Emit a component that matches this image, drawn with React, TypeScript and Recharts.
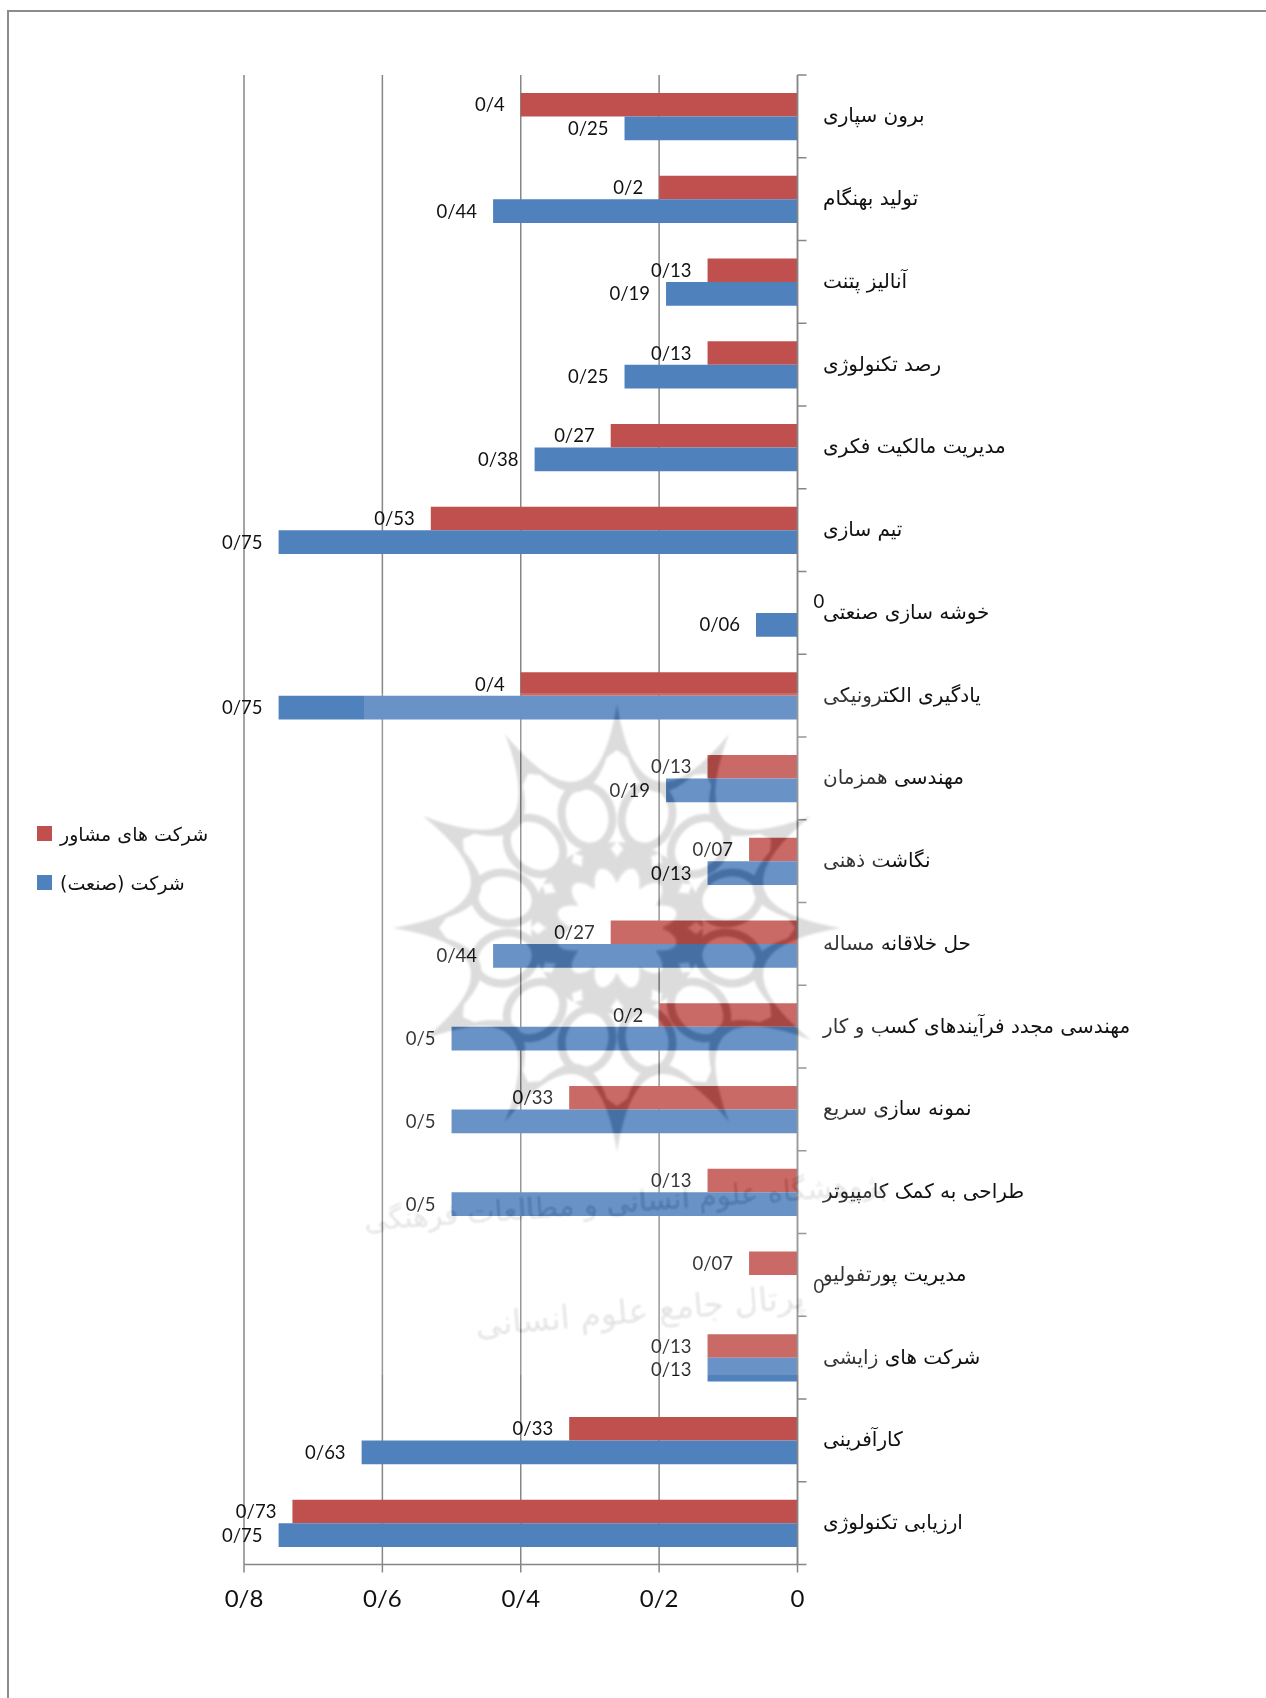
import React from 'react';
import { BarChart, Bar, XAxis, YAxis, CartesianGrid, Legend, LabelList } from 'recharts';

const categories = [
  'برون سپاری',
  'تولید بهنگام',
  'آنالیز پتنت',
  'رصد تکنولوژی',
  'مدیریت مالکیت فکری',
  'تیم سازی',
  'خوشه سازی صنعتی',
  'یادگیری الکترونیکی',
  'مهندسی همزمان',
  'نگاشت ذهنی',
  'حل خلاقانه مساله',
  'مهندسی مجدد فرآیندهای کسب و کار',
  'نمونه سازی سریع',
  'طراحی به کمک کامپیوتر',
  'مدیریت پورتفولیو',
  'شرکت های زایشی',
  'کارآفرینی',
  'ارزیابی تکنولوژی',
];
const consultants = [0.4, 0.2, 0.13, 0.13, 0.27, 0.53, 0, 0.4, 0.13, 0.07, 0.27, 0.2, 0.33, 0.13, 0.07, 0.13, 0.33, 0.73];
const industry = [0.25, 0.44, 0.19, 0.25, 0.38, 0.75, 0.06, 0.75, 0.19, 0.13, 0.44, 0.5, 0.5, 0.5, 0, 0.13, 0.63, 0.75];
const xTicks = [0, 0.2, 0.4, 0.6, 0.8];

const data = categories.map((name, i) => ({ name, consultants: consultants[i], industry: industry[i] }));

const WIDTH = 1266;
const HEIGHT = 1698;
const PLOT_TOP = 75;
const PLOT_BOTTOM = 1564.5;
const STEP = (PLOT_BOTTOM - PLOT_TOP) / categories.length;
const BAR = 23.6;
const GREY = '#868686';
const LATIN = 'Lato, sans-serif';
const PERSIAN = '"DejaVu Sans", sans-serif';

const decimal = (v: number) => String(v).replace('.', '/');

const ZeroLabel = ({ x, y }: any) => (
  <text x={x} y={y} dy="0.35em" textAnchor="start" fontFamily={LATIN} fontSize={18.5} fill="#111">
    0
  </text>
);

// recharts drops the label of a zero length bar, so those two are drawn with the axis row
const CategoryTick = (props: any) => {
  const { x, y, payload, index } = props;
  return (
    <g>
      <line x1={x} x2={x + 9} y1={y - STEP / 2} y2={y - STEP / 2} stroke={GREY} strokeWidth={1.5} />
      {index === categories.length - 1 && (
        <line x1={x} x2={x + 9} y1={y + STEP / 2} y2={y + STEP / 2} stroke={GREY} strokeWidth={1.5} />
      )}
      <text x={x + 25.5} y={y} dy="0.3em" fontFamily={PERSIAN} fontSize={20} fill="#111" textAnchor="start">
        {payload.value}
      </text>
      {consultants[index] === 0 && <ZeroLabel x={x + 16} y={y - BAR / 2} />}
      {industry[index] === 0 && <ZeroLabel x={x + 16} y={y + BAR / 2} />}
    </g>
  );
};

const ValueLabel = (props: any) => {
  const { x, y, width, height, value } = props;
  const left = Math.min(x, x + width);
  return (
    <text x={left - 16} y={y + height / 2} dy="0.35em" textAnchor="end" fontFamily={LATIN} fontSize={18.5} fill="#111">
      {decimal(value)}
    </text>
  );
};

const LegendBox = ({ payload }: any) => (
  <div style={{ position: 'relative', width: 220, height: 90 }}>
    {(payload || []).map((item: any, i: number) => (
      <div key={item.value} style={{ position: 'absolute', left: 0, top: i * 49, height: 16, width: 220 }}>
        <div style={{ position: 'absolute', left: 0, top: 0, width: 15, height: 15, background: item.color }} />
        <div
          style={{
            position: 'absolute',
            left: 23,
            top: -4,
            fontFamily: PERSIAN,
            fontSize: 19,
            lineHeight: '24px',
            color: '#111',
            whiteSpace: 'nowrap',
          }}
        >
          {item.value}
        </div>
      </div>
    ))}
  </div>
);

// faint emblem and caption printed over the page in the source scan
const spikes = Array.from({ length: 12 }, (_, k) => (k * Math.PI) / 6);
const polar = (r: number, a: number) => `${(r * Math.sin(a)).toFixed(1)} ${(-r * Math.cos(a)).toFixed(1)}`;

const Watermark = () => (
  <svg
    width={WIDTH}
    height={HEIGHT}
    style={{ position: 'absolute', left: 0, top: 0, mixBlendMode: 'difference', pointerEvents: 'none' }}
  >
    <defs>
      <filter id="soft">
        <feGaussianBlur stdDeviation="0.8" />
      </filter>
      <mask id="emblem" maskUnits="userSpaceOnUse" x="0" y="0" width={WIDTH} height={HEIGHT}>
        <g transform="translate(617 928)" filter="url(#soft)">
          {spikes.map((a) => {
            const b = a + Math.PI / 6;
            const m = a + Math.PI / 12;
            return (
              <g key={a}>
                <path fill="#fff" d={`M${polar(224, a)} Q${polar(88, m)} ${polar(224, b)} Q${polar(66, m)} ${polar(224, a)}Z`} />
                <path
                  fill="#fff"
                  d={`M${polar(224, a)} Q${polar(190, a + 0.02)} ${polar(168, a + 0.09)} L${polar(178, a)} L${polar(168, a - 0.09)} Q${polar(190, a - 0.02)} ${polar(224, a)}Z`}
                />
              </g>
            );
          })}
          {spikes.map((a) => {
            const deg = ((a + Math.PI / 12) * 180) / Math.PI;
            return (
              <g key={a} transform={`rotate(${deg})`}>
                <ellipse cx={0} cy={-116} rx={25} ry={31} fill="none" stroke="#fff" strokeWidth={8} />
              </g>
            );
          })}
          <circle r={86} fill="#fff" />
          {spikes.map((a) => {
            const deg = (a * 180) / Math.PI;
            return (
              <g key={a} transform={`rotate(${deg})`}>
                <path d="M0 -88 L7 -79 L0 -70 L-7 -79Z" fill="#000" />
                <ellipse cx={0} cy={-40} rx={12} ry={22} fill="#000" transform="rotate(15)" />
              </g>
            );
          })}
          <circle r={32} fill="#000" />
        </g>
      </mask>
    </defs>
    <rect x={0} y={0} width={WIDTH} height={HEIGHT} fill="#232323" mask="url(#emblem)" />
    <text x={626} y={1212} textAnchor="middle" fontFamily={PERSIAN} fontSize={29} fill="#1c1c1c" transform="rotate(-4 626 1212)" filter="url(#soft)">
      پژوهشگاه علوم انسانی و مطالعات فرهنگی
    </text>
    <text x={641} y={1322} textAnchor="middle" fontFamily={PERSIAN} fontSize={33} fill="#1c1c1c" transform="rotate(-5 641 1322)" filter="url(#soft)">
      پرتال جامع علوم انسانی
    </text>
  </svg>
);

export default function App() {
  return (
    <div style={{ position: 'absolute', left: 0, top: 0, width: WIDTH, height: HEIGHT, overflow: 'hidden', background: '#fff' }}>
      <div
        style={{
          position: 'absolute',
          left: 7,
          top: 10,
          width: WIDTH,
          height: HEIGHT,
          borderTop: '2px solid #8c8c8c',
          borderLeft: '2px solid #8c8c8c',
        }}
      />
      <div style={{ position: 'absolute', left: 0, top: 0 }}>
        <BarChart
          width={WIDTH}
          height={HEIGHT}
          data={data}
          layout="vertical"
          barCategoryGap={0}
          barGap={0}
          barSize={BAR}
          margin={{ top: PLOT_TOP, right: 0, bottom: 0, left: 244 }}
        >
          <CartesianGrid vertical horizontal={false} stroke={GREY} strokeWidth={1.5} />
          <XAxis
            type="number"
            reversed
            domain={[0, 0.8]}
            ticks={xTicks}
            interval={0}
            height={HEIGHT - PLOT_BOTTOM}
            tickFormatter={decimal}
            tick={{ fill: '#111', fontSize: 24, fontFamily: LATIN }}
            tickSize={8}
            tickMargin={17}
            axisLine={{ stroke: GREY, strokeWidth: 1.5 }}
            tickLine={{ stroke: GREY, strokeWidth: 1.5 }}
          />
          <YAxis
            type="category"
            dataKey="name"
            orientation="right"
            width={WIDTH - 797.5}
            interval={0}
            tick={<CategoryTick />}
            tickLine={false}
            tickSize={0}
            tickMargin={0}
            axisLine={{ stroke: GREY, strokeWidth: 1.5 }}
          />
          <Legend
            layout="vertical"
            align="center"
            verticalAlign="middle"
            itemSorter={null}
            wrapperStyle={{ left: 37, top: 826, width: 220 }}
            content={<LegendBox />}
          />
          <Bar dataKey="consultants" name="شرکت های مشاور" fill="#C0504D" isAnimationActive={false}>
            <LabelList dataKey="consultants" content={<ValueLabel />} />
          </Bar>
          <Bar dataKey="industry" name="شرکت (صنعت)" fill="#4F81BD" isAnimationActive={false}>
            <LabelList dataKey="industry" content={<ValueLabel />} />
          </Bar>
        </BarChart>
      </div>
      <div
        style={{
          position: 'absolute',
          left: 364,
          top: 693,
          width: 521,
          height: 682,
          background: 'rgba(255,255,255,0.15)',
          pointerEvents: 'none',
        }}
      />
      <Watermark />
    </div>
  );
}
